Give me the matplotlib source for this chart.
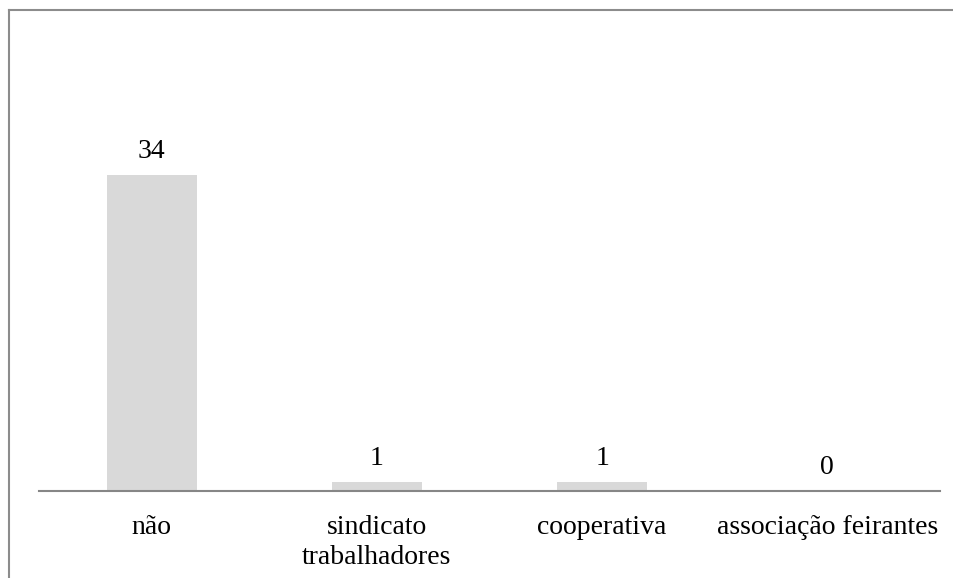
import matplotlib.pyplot as plt
from matplotlib.lines import Line2D

# dados do gráfico
categorias = ["não", "sindicato\ntrabalhadores", "cooperativa", "associação feirantes"]
valores = [34, 1, 1, 0]

W, H = 954, 578
fig = plt.figure(figsize=(W / 100, H / 100), dpi=100)
plt.rcParams['font.family'] = ['Liberation Serif', 'DejaVu Serif']

# área do gráfico (em pixels: x 39..940, eixo em y=491)
x0, x1 = 39, 940
y_base, y_top = 491, 119
ax = fig.add_axes([x0 / W, 1 - y_base / H, (x1 - x0) / W, (y_base - y_top) / H])

pos = range(len(categorias))
ax.bar(pos, valores, width=0.4, color='#d9d9d9')
ax.set_xlim(-0.5, len(categorias) - 0.5)
ax.set_ylim(0, 40)

for i, v in zip(pos, valores):
    ax.annotate(str(v), (i, v), xytext=(0, 11), textcoords='offset pixels',
                ha='center', va='bottom', fontsize=20, color='#000000')

for s in ['top', 'right', 'left']:
    ax.spines[s].set_visible(False)
ax.spines['bottom'].set_color('#868686')
ax.spines['bottom'].set_linewidth(1.5)
ax.set_yticks([])
ax.set_xticks(list(pos))
ax.set_xticklabels(categorias, fontsize=20, linespacing=1.28)
ax.tick_params(axis='x', length=0, pad=17)

# moldura (cortada à direita e em baixo)
fig.add_artist(Line2D([9 / W, 1], [1 - 10 / H, 1 - 10 / H], color='#8c8c8c', lw=1.5,
                      transform=fig.transFigure))
fig.add_artist(Line2D([9 / W, 9 / W], [1 - 10 / H, 0], color='#8c8c8c', lw=1.5,
                      transform=fig.transFigure))

fig.savefig('out.png', dpi=100)
